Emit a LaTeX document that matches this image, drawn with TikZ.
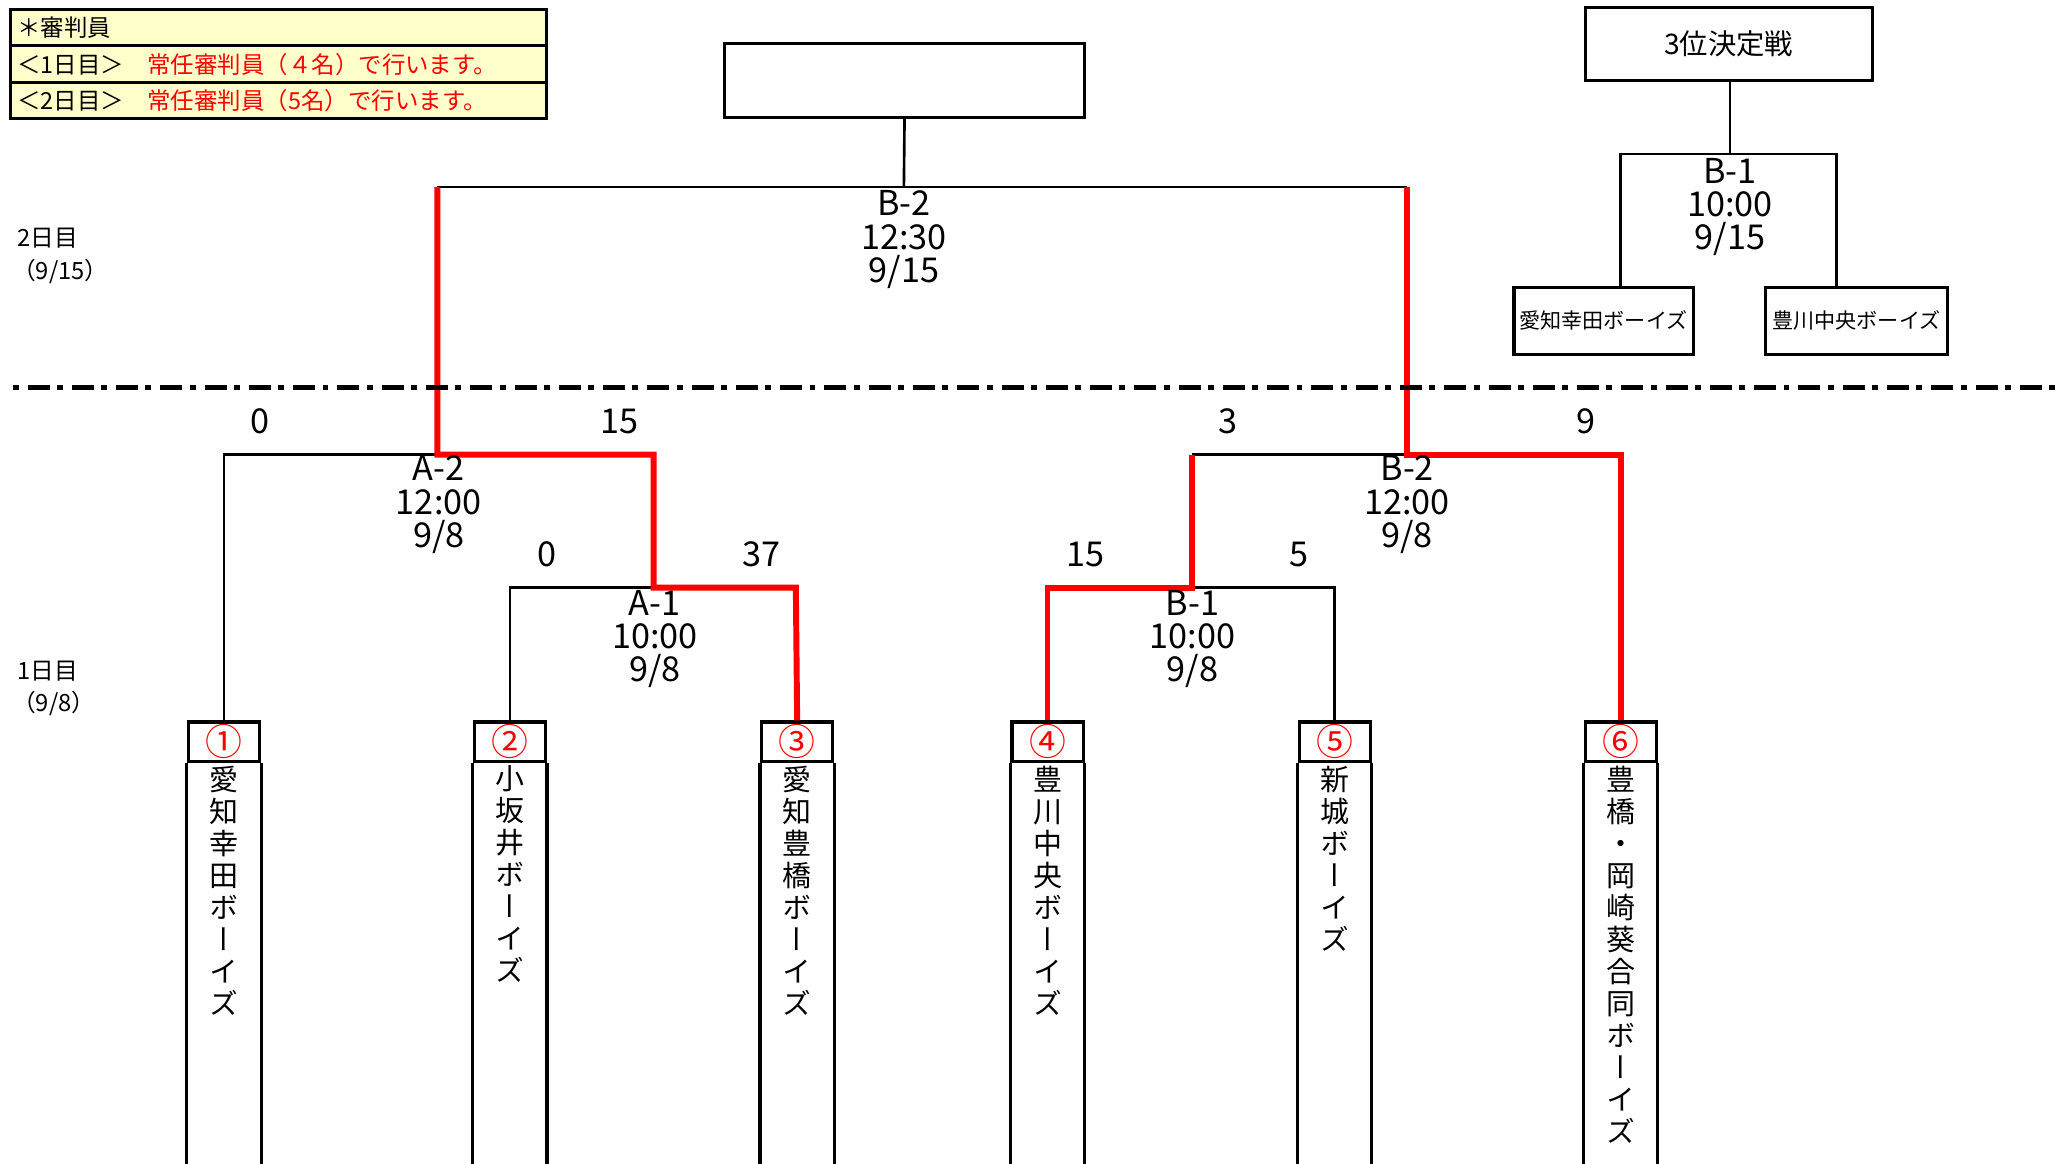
\documentclass[tikz,border=0pt]{standalone}
\usepackage{fontspec}
\setmainfont{Noto Sans CJK JP}
\newfontfamily\vjp[RawFeature=+vert]{Noto Sans CJK JP}
\definecolor{refyellow}{HTML}{FFFFCC}
\begin{document}
\begin{tikzpicture}[x=1pt,y=-1pt,
  bk/.style={line width=2pt, black},
  rd/.style={line width=4.5pt, red, line join=miter},
  boxed/.style={draw, line width=2.4pt, inner sep=0pt},
  refrow/.style={draw, line width=2.2pt, fill=refyellow, minimum width=407pt, minimum height=27.7pt, inner xsep=5pt, text width=397pt, align=left, anchor=north west, font=\fontsize{17.8}{17.8}\selectfont},
  lbl/.style={align=center, inner sep=0pt, font=\fontsize{26}{25.3}\selectfont},
  score/.style={inner sep=0pt, font=\fontsize{26}{26}\selectfont},
  daylbl/.style={inner sep=0pt, anchor=west, font=\fontsize{18}{18}\selectfont},
  numhead/.style={boxed, minimum width=54pt, minimum height=30pt, text=red, font=\fontsize{28}{28}\selectfont},
  vname/.style={align=center, inner sep=0pt, anchor=north, font=\vjp\fontsize{22}{24.3}\selectfont},
  smallteam/.style={boxed, minimum height=51pt, font=\fontsize{16}{16}\selectfont}
]
\useasboundingbox (0,0) rectangle (1568,883);

% referee table
\node[refrow] (r1) at (7,6) {＊審判員};
\node[refrow] (r2) at (7,33.7) {＜1日目＞　\textcolor{red}{常任審判員（４名）で行います。}};
\node[refrow] (r3) at (7,61.4) {＜2日目＞　\textcolor{red}{常任審判員（5名）で行います。}};

% day labels
\node[daylbl] (d2a) at (13,181) {2日目};
\node[daylbl] (d2b) at (9,206) {（9/15）};
\node[daylbl] (d1a) at (13,509) {1日目};
\node[daylbl] (d1b) at (9,534) {（9/8）};

% final box
\node[boxed, minimum width=273pt, minimum height=56pt] (fin) at (686.5,61) {};

% third place
\node[boxed, minimum width=218pt, minimum height=55pt, font=\fontsize{21.5}{21.5}\selectfont] (third) at (1312,33.5) {3位決定戦};
\node[smallteam, minimum width=136pt] (L3) at (1217,243.5) {愛知幸田ボーイズ};
\node[smallteam, minimum width=138pt] (R3) at (1409,243.5) {豊川中央ボーイズ};
\coordinate (TB) at (1313,117);
\coordinate (TBl) at (1230,117);
\coordinate (TBr) at (1394,117);
\draw[bk] (third.south -| TB) -- (TB);
\draw[bk] (TBl |- L3.north) -- (TBl) -- (TBr) -- (TBr |- R3.north);
\node[lbl] (lblT) at (1313,157) {B-1\\10:00\\9/15};

% team headers
\foreach \i/\x/\n in {1/170/①,2/387/②,3/605/③,4/795/④,5/1013/⑤,6/1230/⑥}{
  \node[numhead] (h\i) at (\x,563) {\n};
  \draw[line width=2.4pt] (h\i.south west) -- ++(0,320);
  \draw[line width=2.4pt] (h\i.south east) -- ++(0,320);
}
% team names (vertical)
\node[vname] (n1) at (170,581) {愛\\知\\幸\\田\\ボ\\ー\\イ\\ズ};
\node[vname] (n2) at (387,581) {小\\坂\\井\\ボ\\ー\\イ\\ズ};
\node[vname] (n3) at (605,581) {愛\\知\\豊\\橋\\ボ\\ー\\イ\\ズ};
\node[vname] (n4) at (795,581) {豊\\川\\中\\央\\ボ\\ー\\イ\\ズ};
\node[vname] (n5) at (1013,581) {新\\城\\ボ\\ー\\イ\\ズ};
\node[vname] (n6) at (1230,581) {豊\\橋\\・\\岡\\崎\\葵\\合\\同\\ボ\\ー\\イ\\ズ};

% bracket junctions
\coordinate (F) at (686,142);
\coordinate (FL) at (332,142);
\coordinate (FR) at (1068,142);
\coordinate (A2) at (332,345);
\coordinate (A2l) at (170,345);
\coordinate (A2r) at (496,345);
\coordinate (A1) at (496,446);
\coordinate (A1l) at (387,446);
\coordinate (A1r) at (604,446);
\coordinate (B2) at (1068,345);
\coordinate (B2l) at (905,345);
\coordinate (B2r) at (1230,345);
\coordinate (B1) at (905,446);
\coordinate (B1l) at (795,446);
\coordinate (B1r) at (1013,446);

% black lines
\draw[bk] (fin.south) -- (F);
\draw[bk] (FL) -- (FR);
\draw[bk] (h1.north) -- (A2l) -- (A2);
\draw[bk] (h2.north) -- (A1l) -- (A1);
\draw[bk] (B1) -- (B1r) -- (h5.north);
\draw[bk] (B2l) -- (B2);

% red (winning) lines
\draw[rd] (FL) -- (A2) -- (A2r) -- (A1) -- (A1r) -- (h3.north);
\draw[rd] (FR) -- (B2) -- (B2r) -- (h6.north);
\draw[rd] (B2l) -- (B1) -- (B1l) -- (h4.north);

% dash-dot divider
\coordinate (dl) at (9.6,294);
\coordinate (dr) at (1562,294);
\draw[line width=4.3pt, dash pattern=on 4.5pt off 6.8pt on 16.7pt off 5.6pt] (dl) -- (dr);

% match labels
\node[lbl] (lblF) at (686,182) {B-2\\12:30\\9/15};
\node[lbl] (lblA2) at (333,383) {A-2\\12:00\\9/8};
\node[lbl] (lblA1) at (497,485) {A-1\\10:00\\9/8};
\node[lbl] (lblB2) at (1068,383) {B-2\\12:00\\9/8};
\node[lbl] (lblB1) at (905,485) {B-1\\10:00\\9/8};

% scores
\node[score] (s1) at (197,320) {0};
\node[score] (s2) at (470,320) {15};
\node[score] (s3) at (932,320) {3};
\node[score] (s4) at (1204,320) {9};
\node[score] (s5) at (415,421) {0};
\node[score] (s6) at (578,421) {37};
\node[score] (s7) at (824,421) {15};
\node[score] (s8) at (986,421) {5};
\end{tikzpicture}
\end{document}
